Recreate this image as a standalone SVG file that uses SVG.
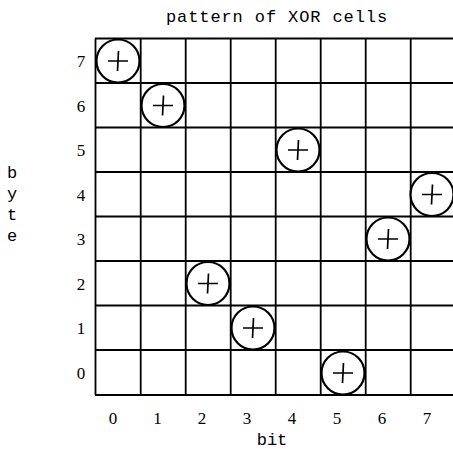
<svg xmlns="http://www.w3.org/2000/svg" width="453" height="449" viewBox="0 0 453 449">
<style>
.g{stroke:#000;stroke-width:1.8;fill:none}
.c{stroke:#000;stroke-width:2.2;fill:#fff}
.p{stroke:#000;stroke-width:1.7;fill:none}
.n{font-family:"Liberation Serif",serif;font-size:17px;fill:#000;text-anchor:middle}
.m{font-family:"Liberation Mono",monospace;font-size:17px;fill:#000;text-anchor:middle}
</style>
<defs>
<g id="xor"><circle class="c" r="21.5"/><path class="p" d="M-10,0H10M0.5,-10L-0.5,10"/></g>
</defs>
<rect width="453" height="449" fill="#fff"/>
<text class="m" x="277" y="22" letter-spacing="0.9">pattern of XOR cells</text>
<g id="grid" class="g">
<path d="M95,38.5H456M95,83H456M95,127.5H456M95,172H456M95,216.5H456M95,261H456M95,305.5H456M95,350H456M95,395H456"/>
<path d="M95.5,38.5V395M140.7,38.5V395M185.7,38.5V395M230.7,38.5V395M275.7,38.5V395M320.7,38.5V395M365.7,38.5V395M410.7,38.5V395"/>
</g>
<g id="cell-b0-y7"><use href="#xor" x="118" y="61"/></g>
<g id="cell-b1-y6"><use href="#xor" x="163" y="105.5"/></g>
<g id="cell-b4-y5"><use href="#xor" x="298" y="150"/></g>
<g id="cell-b7-y4"><use href="#xor" x="432" y="194.5"/></g>
<g id="cell-b6-y3"><use href="#xor" x="388" y="239"/></g>
<g id="cell-b2-y2"><use href="#xor" x="208" y="283.5"/></g>
<g id="cell-b3-y1"><use href="#xor" x="253" y="328"/></g>
<g id="cell-b5-y0"><use href="#xor" x="343" y="373"/></g>
<g id="ylabels">
<text class="n" x="81" y="67">7</text>
<text class="n" x="81" y="111.5">6</text>
<text class="n" x="81" y="156">5</text>
<text class="n" x="81" y="200.5">4</text>
<text class="n" x="81" y="245">3</text>
<text class="n" x="81" y="289.5">2</text>
<text class="n" x="81" y="334">1</text>
<text class="n" x="81" y="379">0</text>
</g>
<g id="xlabels">
<text class="n" x="113" y="424">0</text>
<text class="n" x="157.5" y="424">1</text>
<text class="n" x="202" y="424">2</text>
<text class="n" x="247" y="424">3</text>
<text class="n" x="292" y="424">4</text>
<text class="n" x="337" y="424">5</text>
<text class="n" x="382" y="424">6</text>
<text class="n" x="427" y="424">7</text>
</g>
<text class="m" x="272" y="445">bit</text>
<g id="byte-label">
<text class="m" x="12" y="178">b</text>
<text class="m" x="12" y="199">y</text>
<text class="m" x="12" y="220">t</text>
<text class="m" x="12" y="241">e</text>
</g>
</svg>
